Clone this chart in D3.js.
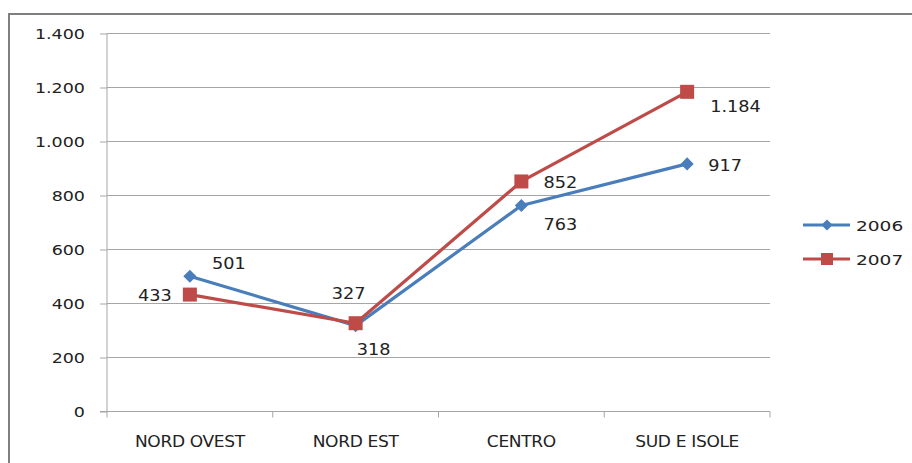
<!DOCTYPE html>
<html><head><meta charset="utf-8">
<script src="https://cdn.jsdelivr.net/npm/d3@7"></script>
<style>body{margin:0;background:#fff}svg{display:block}</style>
</head><body><svg id="c" width="912" height="463"></svg>
<script>
const categories = ["NORD OVEST", "NORD EST", "CENTRO", "SUD E ISOLE"];
const seriesNames = ["2006", "2007"];
const values2006 = [501, 318, 763, 917];
const values2007 = [433, 327, 852, 1184];
const labels2006 = ["501", "318", "763", "917"];
const labels2007 = ["433", "327", "852", "1.184"];
const yTicks = [0, 200, 400, 600, 800, 1000, 1200, 1400];
const yTickLabels = ["0", "200", "400", "600", "800", "1.000", "1.200", "1.400"];
const colors = ["#4a7ebb", "#be4b48"];

const FONT = "DejaVu Sans, Verdana, sans-serif";
const svg = d3.select("#c");
svg.append("path").attr("d", "M9,463 L9,14 L912,14").attr("fill", "none").attr("stroke", "#7f7f7f").attr("stroke-width", 2);

const x = d3.scaleBand().domain(categories).range([107, 770]);
const y = d3.scaleLinear().domain([0, 1400]).range([411.5, 33.5]);

function stext(g, tx, ty, str, size, k, anchor) {
  return g.append("text").attr("transform", `translate(${tx},${ty}) scale(${k},1)`)
    .attr("text-anchor", anchor).attr("font-family", FONT).attr("font-size", size)
    .attr("fill", "#222").text(str);
}

svg.append("g").selectAll("line").data(yTicks.slice(1)).join("line")
  .attr("x1", 107).attr("x2", 770).attr("y1", d => y(d)).attr("y2", d => y(d))
  .attr("stroke", "#a6a6a6").attr("stroke-width", 1).attr("shape-rendering", "crispEdges");

const yAxis = d3.axisLeft(y).tickValues(yTicks).tickFormat("").tickSize(7);
const gy = svg.append("g").attr("transform", "translate(107,0)").call(yAxis);
gy.select(".domain").attr("stroke", "#a6a6a6").attr("d", "M0,33.5V411.5");
gy.selectAll(".tick line").attr("stroke", "#a6a6a6");
const gyl = svg.append("g");
yTicks.forEach((t, i) => stext(gyl, 85, y(t) + 5.5, yTickLabels[i], 14, 1.25, "end"));

const gx = svg.append("g").attr("transform", "translate(0,411.5)");
gx.append("line").attr("x1", 100).attr("x2", 770).attr("y1", 0).attr("y2", 0).attr("stroke", "#a6a6a6");
const bounds = categories.map(c => x(c)).concat([x(categories[categories.length-1]) + x.bandwidth()]);
gx.selectAll(".tk").data(bounds).join("line").attr("class", "tk")
  .attr("x1", d => d).attr("x2", d => d).attr("y1", 0).attr("y2", 6).attr("stroke", "#a6a6a6");
categories.forEach(c => {
  gx.append("text").attr("transform", `translate(${x(c) + x.bandwidth() / 2},35) scale(1.1,1)`)
    .attr("text-anchor", "middle").attr("font-family", FONT).attr("font-size", 15.5)
    .attr("letter-spacing", -0.3).attr("fill", "#222").text(c);
});

const cx = d => x(d) + x.bandwidth() / 2;
const line = d3.line().x(d => cx(d.c)).y(d => y(d.v));
const data = [values2006, values2007].map(vals => categories.map((c, i) => ({c, v: vals[i]})));

data.forEach((s, si) => {
  svg.append("path").datum(s).attr("d", line).attr("fill", "none")
    .attr("stroke", colors[si]).attr("stroke-width", 3.2).attr("stroke-linejoin", "round");
});
svg.append("g").selectAll("path").data(data[0]).join("path")
  .attr("d", d3.symbol(d3.symbolDiamond2 || d3.symbolDiamond, 110)())
  .attr("transform", d => `translate(${cx(d.c)},${y(d.v)})`).attr("fill", colors[0]);
svg.append("g").selectAll("rect").data(data[1]).join("rect")
  .attr("x", d => cx(d.c) - 7).attr("y", d => y(d.v) - 7).attr("width", 14).attr("height", 14)
  .attr("fill", colors[1]);

const off2006 = [[22, -7, "start"], [1, 29, "start"], [22, 25, "start"], [21, 7, "start"]];
const off2007 = [[-18, 6, "end"], [-24, -24, "start"], [22, 7, "start"], [23, 20, "start"]];
const gl = svg.append("g");
data[0].forEach((d, i) => stext(gl, cx(d.c) + off2006[i][0], y(d.v) + off2006[i][1], labels2006[i], 15, 1.18, off2006[i][2]));
data[1].forEach((d, i) => stext(gl, cx(d.c) + off2007[i][0], y(d.v) + off2007[i][1], labels2007[i], 15, 1.18, off2007[i][2]));

const lg = svg.append("g");
seriesNames.forEach((n, i) => {
  const ly = 225 + i * 34;
  lg.append("line").attr("x1", 803).attr("x2", 850).attr("y1", ly).attr("y2", ly).attr("stroke", colors[i]).attr("stroke-width", 3);
  if (i === 0) lg.append("path").attr("d", d3.symbol(d3.symbolDiamond2 || d3.symbolDiamond, 80)()).attr("transform", `translate(827,${ly})`).attr("fill", colors[i]);
  else lg.append("rect").attr("x", 821).attr("y", ly - 6).attr("width", 12).attr("height", 12).attr("fill", colors[i]);
  stext(lg, 856, ly + 5.5, n, 14.5, 1.28, "start");
});
</script></body></html>
